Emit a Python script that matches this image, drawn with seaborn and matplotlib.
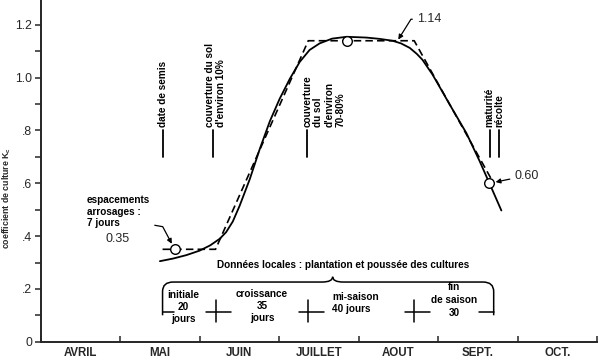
import numpy as np
import pandas as pd
import matplotlib
matplotlib.use("Agg")
import matplotlib.pyplot as plt
import seaborn as sns
from matplotlib.path import Path
from matplotlib.patches import PathPatch

# x axis: days counted from 1 April, drawn as 30-day months
months = ["AVRIL", "MAI", "JUIN", "JUILLET", "AOUT", "SEPT.", "OCT."]
month_len = 30

# smooth Kc curve
curve_day = [45.0, 50.0, 55.0, 60.0, 64.0, 67.6, 70.0, 72.5, 75.1, 78.9, 82.7, 86.5,
             90.2, 94.0, 97.8, 101.5, 105.3, 110.0, 115.5, 123.0, 128.0, 132.8, 136.0,
             139.3, 142.0, 144.1, 146.0, 147.9, 151.0, 154.3, 160.7, 165.6, 169.4, 173.9]
curve_kc = [0.305, 0.315, 0.328, 0.345, 0.365, 0.39, 0.415, 0.455, 0.515, 0.615, 0.73, 0.835,
            0.92, 0.995, 1.06, 1.105, 1.13, 1.148, 1.155, 1.152, 1.147, 1.14, 1.13,
            1.113, 1.09, 1.068, 1.04, 1.012, 0.958, 0.90, 0.79, 0.686, 0.60, 0.497]

# FAO stage construction (dashed)
stage_day = [46, 66, 101, 141, 171]
stage_kc = [0.35, 0.35, 1.14, 1.14, 0.60]
stage_names = ["initiale\n20\njours", "croissance\n35\njours", "mi-saison\n40 jours", "fin\nde saison\n30"]

# points marked with a circle
point_day = [50.6, 115.5, 169.4]
point_kc = [0.35, 1.14, 0.60]

# crop development events
event_day = [46, 65, 100.5, 169.5, 173]
event_text = ["date de semis", "couverture du sol\nd'environ 10%",
              "couverture\ndu sol\nd'environ\n70-80%", "maturité", "récolte"]

yticks = [0, 0.2, 0.4, 0.6, 0.8, 1.0, 1.2]
ytick_labels = ["0", ".2", ".4", ".6", ".8", "1.0", "1.2"]

sns.set_style("ticks")
plt.rcParams['font.family'] = ['Liberation Sans', 'DejaVu Sans']

W, H = 600, 364
fig = plt.figure(figsize=(W / 100, H / 100), dpi=100)
ax = fig.add_axes([40.7 / W, (H - 341.7) / H, (597 - 40.7) / W, 341.7 / H])

curve = pd.DataFrame({"day": curve_day, "kc": curve_kc})
stages = pd.DataFrame({"day": stage_day, "kc": stage_kc})
pts = pd.DataFrame({"day": point_day, "kc": point_kc})

sns.lineplot(data=curve, x="day", y="kc", color="black", lw=1.3, sort=False, ax=ax)
sns.lineplot(data=stages, x="day", y="kc", color="black", lw=1.2, sort=False, ax=ax,
             dashes=False, linestyle=(0, (4.5, 2.5)))
sns.scatterplot(data=pts, x="day", y="kc", s=48, color="white", edgecolor="black",
                linewidth=1, zorder=5, ax=ax)

bold = dict(fontweight="bold", color="black")
fs = 7.2

# event markers + rotated labels
for i, (d, t) in enumerate(zip(event_day, event_text)):
    ax.plot([d, d], [0.70, 0.80], color="black", lw=1.3)
    if i == 2:
        ax.text(d - 1.8, 0.815, t, rotation=90, ha="left", va="bottom", fontsize=fs,
                linespacing=1.15, multialignment="left", **bold)
    else:
        ax.text(d + (1 if i == 1 else 0), 0.815, t, rotation=90, ha="center", va="bottom",
                fontsize=fs, linespacing=1.2, multialignment="left", **bold)

# annotations of Kc values
ax.annotate("1.14", xy=(134.7, stage_kc[2]), xytext=(14, 15.5), textcoords="offset points",
            ha="left", va="center", fontsize=9,
            arrowprops=dict(arrowstyle="-|>", color="black", lw=0.9, mutation_scale=7,
                            shrinkA=1, shrinkB=1,
                            connectionstyle="angle,angleA=0,angleB=58,rad=0"))
ax.annotate("0.60", xy=(point_day[2], point_kc[2]), xytext=(18, 5.5), textcoords="offset points",
            ha="left", va="center", fontsize=9,
            arrowprops=dict(arrowstyle="-|>", color="black", lw=0.9, mutation_scale=7,
                            shrinkA=1, shrinkB=4.5))
ax.annotate("", xy=(point_day[0], point_kc[0]), xytext=(-14.4, 17.3), textcoords="offset points",
            arrowprops=dict(arrowstyle="-|>", color="black", lw=0.9, mutation_scale=7,
                            shrinkA=0, shrinkB=4.5,
                            connectionstyle="angle,angleA=-10,angleB=118,rad=0"))
ax.text(17.5, 0.555, "espacements\narrosages :\n7 jours", ha="left", va="top", fontsize=fs,
        linespacing=1.2, multialignment="left", **bold)
ax.text(24.6, 0.388, "0.35", ha="left", va="center", fontsize=9)

# stage bracket
left, right = stage_day[0], stage_day[-1]
mid = 110.2
top, base = 0.226, 0.112
pv = [(left, 0.10), (left, 0.19), (left, top), (left + 4, top),
      (mid - 4, top), (mid, top), (mid, top + 0.02), (mid, top), (mid + 4, top),
      (right - 4, top), (right, top), (right, 0.19), (right, 0.10)]
codes = [Path.MOVETO, Path.LINETO, Path.CURVE3, Path.CURVE3,
         Path.LINETO, Path.CURVE3, Path.CURVE3, Path.CURVE3, Path.CURVE3,
         Path.LINETO, Path.CURVE3, Path.CURVE3, Path.LINETO]
ax.add_patch(PathPatch(Path(pv, codes), fill=False, lw=1.1, edgecolor="black"))
ax.plot([left, left + 4.5], [base, base], color="black", lw=1.1)
ax.plot([right - 5.5, right], [base, base], color="black", lw=1.1)
for d in stage_day[1:-1]:
    ax.plot([d - 3.5, d + 6], [base, base], color="black", lw=1.1)
    ax.plot([d, d], [0.075, 0.158], color="black", lw=1.1)

stage_y = [0.13, 0.135, 0.146, 0.158]
for i, (name, y) in enumerate(zip(stage_names, stage_y)):
    cx = (stage_day[i] + stage_day[i + 1]) / 2
    if i == 2:
        ax.text(cx - 11, y, name, ha="left", va="center", fontsize=fs, linespacing=1.25, **bold)
    else:
        ax.text(cx - (2 if i == 0 else 0), y, name, ha="center", va="center", fontsize=fs,
                linespacing=1.25 if i < 3 else 1.4, **bold)

ax.text(114, 0.29, "Données locales : plantation et poussée des cultures", ha="center",
        va="center", fontsize=fs, **bold)

# axes
ax.set_xlim(0, month_len * len(months))
ax.set_ylim(0, 341.7 / 264)
ax.set_xticks(np.arange(0, month_len * len(months) + 1, month_len))
ax.set_xticklabels([])
ax.set_xticks(np.arange(month_len / 2, month_len * len(months), month_len), minor=True)
ax.set_xticklabels(months, minor=True, fontsize=8.3, fontweight="bold")
ax.tick_params(axis="x", which="major", direction="in", length=4, width=1.1)
ax.tick_params(axis="x", which="minor", length=0, pad=4)
ax.set_yticks(yticks)
ax.set_yticklabels(ytick_labels, fontsize=8.8)
ax.set_yticks(np.arange(0.1, 1.25, 0.2), minor=True)
ax.tick_params(axis="y", which="both", direction="out", length=4, width=1.1, pad=2)
ax.set_xlabel("")
ax.set_ylabel("coefficient de culture K$_\\mathregular{c}$", fontsize=6.3, fontweight="bold")
ax.yaxis.set_label_coords(-0.05, 0.42)
for s in ["top", "right"]:
    ax.spines[s].set_visible(False)
for s in ["left", "bottom"]:
    ax.spines[s].set_linewidth(1.4)
ax.grid(False)

fig.savefig("out.png", dpi=100)
